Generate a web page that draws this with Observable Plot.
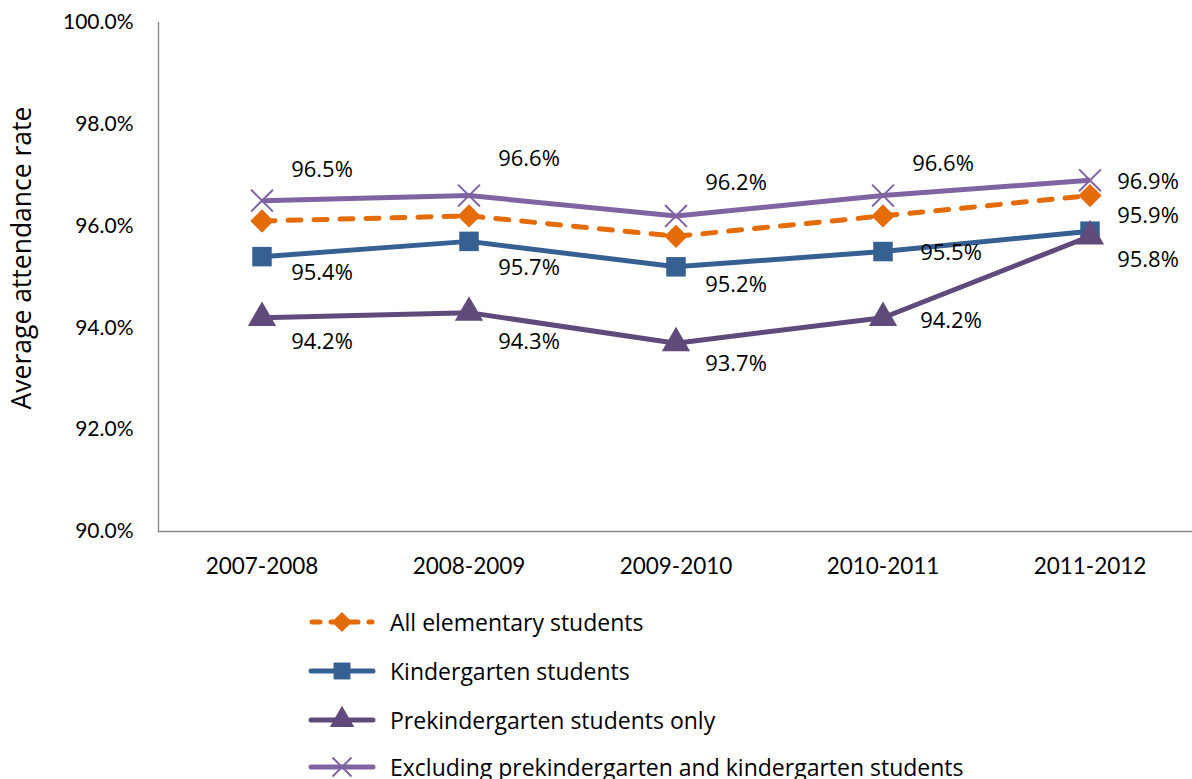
<!DOCTYPE html>
<html>
<head>
<meta charset="utf-8">
<script src="https://cdn.jsdelivr.net/npm/d3@7"></script>
<script src="https://cdn.jsdelivr.net/npm/@observablehq/plot@0.6"></script>
<style>
  html, body { margin: 0; padding: 0; background: #fff; }
  #wrap { position: relative; width: 1192px; height: 779px; overflow: hidden; }
  #legend { position: absolute; left: 0; top: 0; width: 1192px; }
  .item { position: absolute; left: 308px; height: 30px; display: flex; align-items: center;
          font-family: "Open Sans", sans-serif; font-size: 23px; color: #000; white-space: nowrap; }
  .item svg { margin-right: 14px; }
</style>
</head>
<body>
<div id="wrap"><div id="chart"></div><div id="legend"></div></div>
<script>
// ---- data ----
const years = ["2007-2008", "2008-2009", "2009-2010", "2010-2011", "2011-2012"];
const seriesNames = [
  "All elementary students",
  "Kindergarten students",
  "Prekindergarten students only",
  "Excluding prekindergarten and kindergarten students"
];
const allElementary = [96.1, 96.2, 95.8, 96.2, 96.6];
const kindergarten = [95.4, 95.7, 95.2, 95.5, 95.9];
const prekindergarten = [94.2, 94.3, 93.7, 94.2, 95.8];
const excludingPreKK = [96.5, 96.6, 96.2, 96.6, 96.9];
const yTicks = [90, 92, 94, 96, 98, 100];
const yLabel = "Average attendance rate";

// ---- styling (not data) ----
const styles = [
  {color: "#E36C09", symbol: "diamond2", r: 10.5, dash: "13,13", fillSym: true, labels: false},
  {color: "#376092", symbol: "square", r: 11, dash: null, fillSym: true, labels: true},
  {color: "#604A7B", symbol: "triangle", r: 10.5, dash: null, fillSym: true, labels: true},
  {color: "#8064A2", symbol: "times", r: 10, dash: null, fillSym: false, labels: true}
];
// label offsets [dx, dy] per series (index) and year index
const labelOffsets = {
  1: [[60, 16], [60, 27], [60, 18], [68, 1], [58, -15]],
  2: [[60, 24], [60, 29], [60, 21], [68, 3], [58, 24]],
  3: [[60, -31], [60, -37], [60, -33], [60, -32], [58, 2]]
};

const valuesBySeries = [allElementary, kindergarten, prekindergarten, excludingPreKK];
const rows = [];
valuesBySeries.forEach((vals, si) => vals.forEach((v, yi) => rows.push({series: seriesNames[si], si, yi, year: years[yi], value: v})));

const fmt = d => d.toFixed(1) + "%";

const marks = [
  Plot.frame({anchor: "left", stroke: "#868686", strokeWidth: 1.3}),
  Plot.frame({anchor: "bottom", stroke: "#868686", strokeWidth: 1.3}),
  Plot.axisY({ticks: yTicks, tickFormat: fmt, tickSize: 0, tickPadding: 25, fontSize: 21, label: null,
              fontFamily: "Lato, sans-serif", style: {fontVariantNumeric: "oldstyle-nums"}}),
  Plot.axisX({tickSize: 0, tickPadding: 27, fontSize: 22.5, label: null,
              fontFamily: "Lato, sans-serif", style: {fontVariantNumeric: "oldstyle-nums"}}),
  Plot.text([yLabel], {frameAnchor: "left", textAnchor: "middle", rotate: -90, dx: -136, dy: -19, fontSize: 26.5,
              fontFamily: "Open Sans, sans-serif", fill: "#000"})
];

styles.forEach((st, si) => {
  const data = rows.filter(d => d.si === si);
  marks.push(Plot.line(data, {x: "year", y: "value", stroke: st.color, strokeWidth: 5,
    strokeDasharray: st.dash || undefined, strokeLinecap: st.dash ? "round" : "butt", strokeLinejoin: "round"}));
  marks.push(Plot.dot(data, {x: "year", y: "value", symbol: () => st.symbol, r: st.r,
    fill: st.fillSym ? st.color : "none", stroke: st.color, strokeWidth: st.fillSym ? 0 : 2}));
});

// data labels
styles.forEach((st, si) => {
  if (!st.labels) return;
  rows.filter(d => d.si === si).forEach(d => {
    const [dx, dy] = labelOffsets[si][d.yi];
    marks.push(Plot.text([d], {x: "year", y: "value", text: d => fmt(d.value), dx, dy,
      fontSize: 22, fontFamily: "Open Sans, sans-serif", fill: "#000"}));
  });
});

const chart = Plot.plot({
  width: 1192,
  height: 595,
  marginLeft: 158,
  marginRight: 0,
  marginTop: 22,
  marginBottom: 64,
  x: {type: "band", domain: years, padding: 0, range: [158, 1193]},
  y: {domain: [90, 100], range: [531, 22]},
  marks
});
document.getElementById("chart").appendChild(chart);

// legend
const legend = document.getElementById("legend");
const legendTops = [607, 656, 705, 752];
styles.forEach((st, si) => {
  const item = document.createElement("div");
  item.className = "item";
  item.style.top = legendTops[si] + "px";
  const w = 68, h = 30, cy = 15, cx = 34;
  const sz = Math.PI * st.r * st.r * 0.75;
  const path = d3.symbol(({diamond2: d3.symbolDiamond2, square: d3.symbolSquare, triangle: d3.symbolTriangle, times: d3.symbolTimes})[st.symbol], sz)();
  const sym = `<path transform="translate(${cx},${cy})" d="${path}" fill="${st.fillSym ? st.color : "none"}" stroke="${st.color}" stroke-width="${st.fillSym ? 0 : 2}"/>`;
  const line = st.dash
    ? `<line x1="4" x2="${w - 4}" y1="${cy}" y2="${cy}" stroke="${st.color}" stroke-width="5" stroke-linecap="round" stroke-dasharray="8,11"/>`
    : `<line x1="3" x2="${w - 3}" y1="${cy}" y2="${cy}" stroke="${st.color}" stroke-width="5" stroke-linecap="round"/>`;
  item.innerHTML = `<svg width="${w}" height="${h}">${line}${sym}</svg><span>${seriesNames[si]}</span>`;
  legend.appendChild(item);
});
</script>
</body>
</html>
